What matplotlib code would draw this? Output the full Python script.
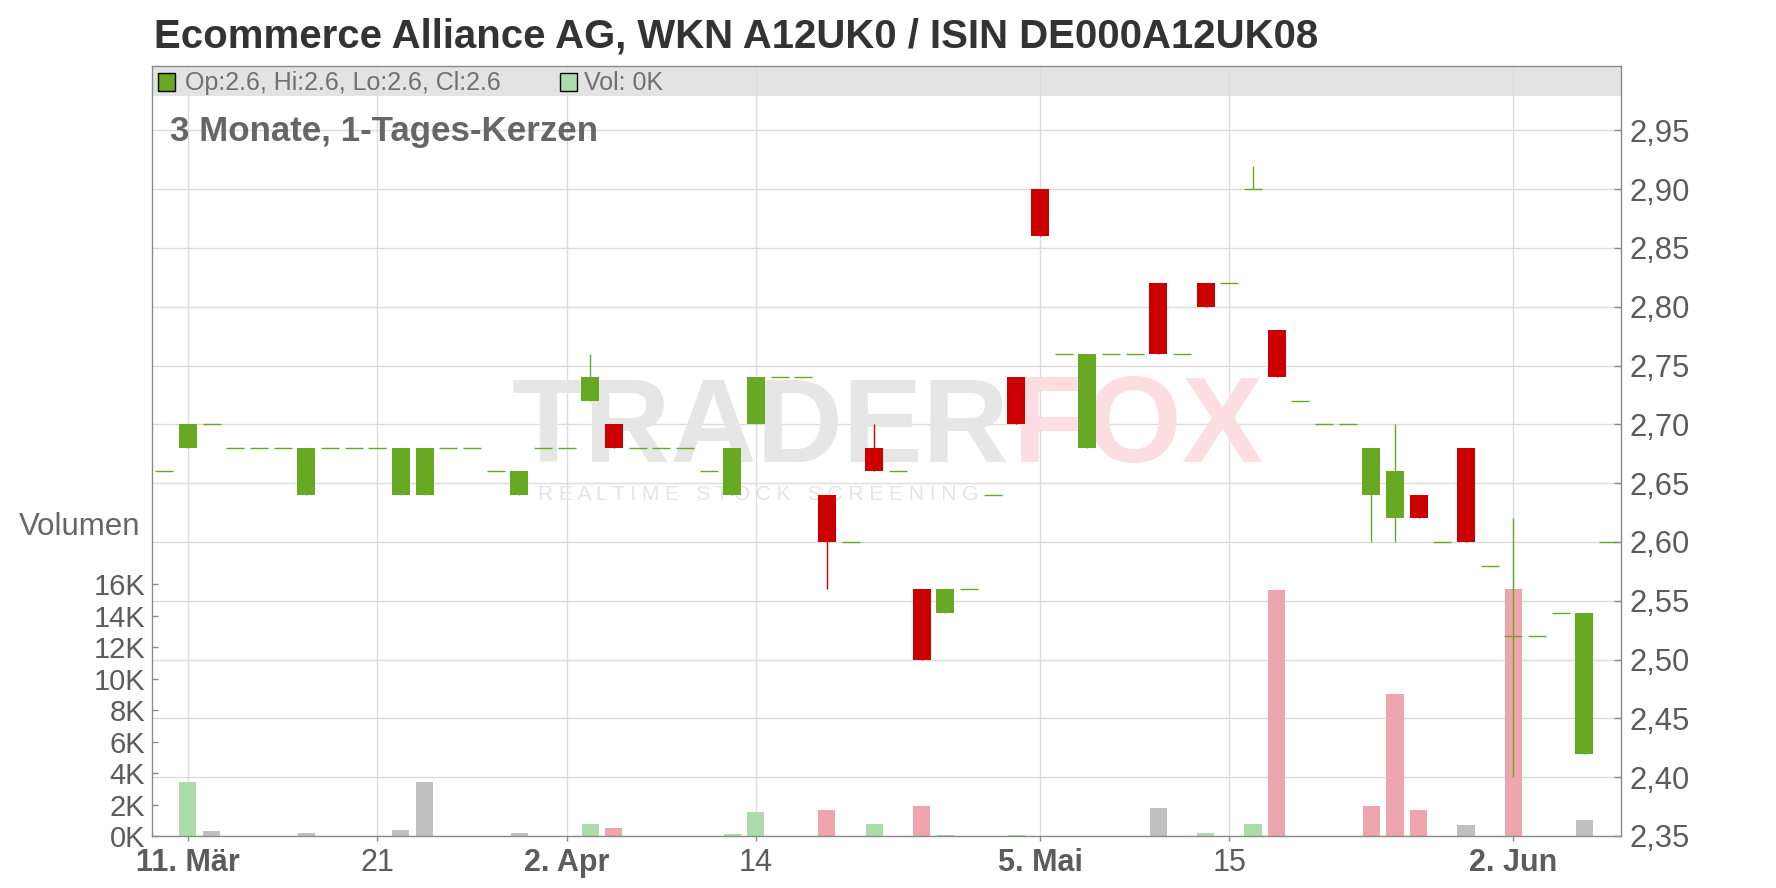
import matplotlib
matplotlib.use('Agg')
import matplotlib.pyplot as plt
from matplotlib.patches import Rectangle

plt.rcParams['font.family'] = ['Liberation Sans', 'DejaVu Sans']

title = "Ecommerce Alliance AG, WKN A12UK0 / ISIN DE000A12UK08"
subtitle = "3 Monate, 1-Tages-Kerzen"
volume_label = "Volumen"

open_ = [2.66, 2.68, 2.70, 2.68, 2.68, 2.68, 2.64, 2.68, 2.68, 2.68,
         2.64, 2.64, 2.68, 2.68, 2.66, 2.64, 2.68, 2.68, 2.72, 2.70,
         2.68, 2.68, 2.68, 2.66, 2.64, 2.70, 2.74, 2.74, 2.64, 2.60,
         2.68, 2.66, 2.56, 2.54, 2.56, 2.64, 2.74, 2.90, 2.76, 2.68,
         2.76, 2.76, 2.82, 2.76, 2.82, 2.82, 2.90, 2.78, 2.72, 2.70,
         2.70, 2.64, 2.62, 2.64, 2.60, 2.68, 2.58, 2.52, 2.52, 2.54,
         2.42, 2.60]
high = [2.66, 2.70, 2.70, 2.68, 2.68, 2.68, 2.68, 2.68, 2.68, 2.68,
        2.68, 2.68, 2.68, 2.68, 2.66, 2.66, 2.68, 2.68, 2.76, 2.70,
        2.68, 2.68, 2.68, 2.66, 2.68, 2.74, 2.74, 2.74, 2.64, 2.60,
        2.70, 2.66, 2.56, 2.56, 2.56, 2.64, 2.74, 2.90, 2.76, 2.76,
        2.76, 2.76, 2.82, 2.76, 2.82, 2.82, 2.92, 2.78, 2.72, 2.70,
        2.70, 2.68, 2.70, 2.64, 2.60, 2.68, 2.58, 2.62, 2.52, 2.54,
        2.54, 2.60]
low = [2.66, 2.68, 2.70, 2.68, 2.68, 2.68, 2.64, 2.68, 2.68, 2.68,
       2.64, 2.64, 2.68, 2.68, 2.66, 2.64, 2.68, 2.68, 2.72, 2.68,
       2.68, 2.68, 2.68, 2.66, 2.64, 2.70, 2.74, 2.74, 2.56, 2.60,
       2.66, 2.66, 2.50, 2.54, 2.56, 2.64, 2.70, 2.86, 2.76, 2.68,
       2.76, 2.76, 2.76, 2.76, 2.80, 2.82, 2.90, 2.74, 2.72, 2.70,
       2.70, 2.60, 2.60, 2.62, 2.60, 2.60, 2.58, 2.40, 2.52, 2.54,
       2.42, 2.60]
close = [2.66, 2.70, 2.70, 2.68, 2.68, 2.68, 2.68, 2.68, 2.68, 2.68,
         2.68, 2.68, 2.68, 2.68, 2.66, 2.66, 2.68, 2.68, 2.74, 2.68,
         2.68, 2.68, 2.68, 2.66, 2.68, 2.74, 2.74, 2.74, 2.60, 2.60,
         2.66, 2.66, 2.50, 2.56, 2.56, 2.64, 2.70, 2.86, 2.76, 2.76,
         2.76, 2.76, 2.76, 2.76, 2.80, 2.82, 2.90, 2.74, 2.72, 2.70,
         2.70, 2.68, 2.66, 2.62, 2.60, 2.60, 2.58, 2.52, 2.52, 2.54,
         2.54, 2.60]
volume = [0, 3450, 320, 0, 0, 0, 190, 0, 0, 0,
          380, 3450, 0, 0, 0, 190, 0, 0, 760, 510,
          0, 0, 0, 0, 130, 1520, 0, 0, 1650, 0,
          760, 0, 1900, 60, 0, 0, 60, 0, 0, 0,
          0, 0, 1780, 0, 200, 0, 760, 15600, 0, 0,
          0, 1900, 9000, 1650, 0, 700, 0, 15700, 0, 0,
          1020, 0]

x_tick_index = [1, 9, 17, 25, 37, 45, 57]
x_tick_labels = ["11. Mär", "21", "2. Apr", "14", "5. Mai", "15", "2. Jun"]
price_ticks = [2.35, 2.40, 2.45, 2.50, 2.55, 2.60, 2.65, 2.70, 2.75, 2.80, 2.85, 2.90, 2.95]
volume_ticks = [0, 2000, 4000, 6000, 8000, 10000, 12000, 14000, 16000]

GREEN = '#67a922'
RED = '#cc0000'
VOL_UP = '#abdcaa'
VOL_DOWN = '#eea5ad'
VOL_FLAT = '#c0c0c0'
GRID = '#dcdcdc'
AXIS = '#8a8a8a'
TXT = '#5c5c5c'

W, H = 1776, 888
fig = plt.figure(figsize=(W / 100, H / 100), dpi=100)

left_px, right_px, top_px, bottom_px = 152, 1621, 66, 836
pos = [left_px / W, 1 - bottom_px / H, (right_px - left_px) / W, (bottom_px - top_px) / H]

n = len(close)
xs = list(range(n))
xlim = (-0.52, n - 0.45)
px_per_price = 1176.0
ylim_price = (2.35, 2.35 + (bottom_px - top_px) / px_per_price)
px_per_vol = 15.75 / 1000.0
ylim_vol = (0, (bottom_px - top_px) / px_per_vol)

# background axis: grid, header band, watermark
ax_bg = fig.add_axes(pos, zorder=0)
ax_bg.set_xlim(*xlim)
ax_bg.set_ylim(*ylim_price)
ax_bg.set_xticks(x_tick_index)
ax_bg.set_yticks(price_ticks)
ax_bg.set_axisbelow(True)
ax_bg.grid(True, color=GRID, lw=1.0)
ax_bg.tick_params(left=False, bottom=False, labelleft=False, labelbottom=False)
for s in ax_bg.spines.values():
    s.set_visible(False)
header_h = 30 / (bottom_px - top_px)
ax_bg.add_patch(Rectangle((0, 1 - header_h), 1, header_h, transform=ax_bg.transAxes,
                          facecolor='#e3e3e3', edgecolor='none', zorder=0.1))
ax_bg.text(0.245, 0.486, "TRADER", transform=ax_bg.transAxes, fontsize=86, fontweight='bold',
           color='#e6e6e6', va='baseline', ha='left', zorder=0.6)
ax_bg.text(0.586, 0.486, "FOX", transform=ax_bg.transAxes, fontsize=88, fontweight='bold',
           color='#fcdde2', va='baseline', ha='left', zorder=0.6)
ax_bg.text(0.263, 0.436, "R E A L T I M E   S T O C K   S C R E E N I N G", transform=ax_bg.transAxes,
           fontsize=15, color='#e4e4e4', va='baseline', ha='left', zorder=0.6)

# volume axis
ax_vol = fig.add_axes(pos, zorder=1, sharex=ax_bg)
ax_vol.patch.set_visible(False)
ax_vol.set_ylim(*ylim_vol)
vol_colors = []
for i in range(n):
    if i == 0 or close[i] == close[i - 1]:
        vol_colors.append(VOL_FLAT)
    elif close[i] > close[i - 1]:
        vol_colors.append(VOL_UP)
    else:
        vol_colors.append(VOL_DOWN)
ax_vol.bar(xs, volume, width=0.72, color=vol_colors, linewidth=0)
ax_vol.set_yticks(volume_ticks)
ax_vol.set_yticklabels([f"{v // 1000}K" for v in volume_ticks])
ax_vol.tick_params(axis='y', direction='in', length=4.5, width=1, color=AXIS,
                   labelsize=21, labelcolor=TXT, pad=5)
ax_vol.tick_params(axis='x', bottom=False, labelbottom=False)
for s in ax_vol.spines.values():
    s.set_visible(False)

# price axis (candles)
ax = fig.add_axes(pos, zorder=2, sharex=ax_bg)
ax.patch.set_visible(False)
ax.set_ylim(*ylim_price)
body_w = 0.76
for i in range(n):
    o, h, l, c = open_[i], high[i], low[i], close[i]
    col = GREEN if c >= o else RED
    if h > l:
        ax.vlines(i, l, h, color=col, lw=1.0, zorder=2)
    if abs(c - o) > 1e-9:
        ax.bar(i, abs(c - o), bottom=min(o, c), width=body_w, color=col, linewidth=0, zorder=3)
    else:
        ax.hlines(c, i - body_w / 2, i + body_w / 2, color=col, lw=1.0, zorder=3)

ax.yaxis.tick_right()
ax.set_yticks(price_ticks)
ax.set_yticklabels([f"{p:.2f}".replace('.', ',') for p in price_ticks])
ax.tick_params(axis='y', direction='in', length=5, width=1, color=AXIS,
               labelsize=22.3, labelcolor=TXT, pad=6)
ax.set_xticks(x_tick_index)
ax.set_xticklabels(x_tick_labels)
ax.tick_params(axis='x', direction='out', length=3.5, width=1, color=AXIS,
               labelsize=22, labelcolor=TXT, pad=5)
for lbl, txt in zip(ax.get_xticklabels(), x_tick_labels):
    if not txt.isdigit():
        lbl.set_fontweight('bold')
for s in ax.spines.values():
    s.set_color(AXIS)
    s.set_linewidth(1.0)
ax.set_xlim(*xlim)

# texts
fig.text(154 / W, 1 - 47 / H, title, fontsize=28.9, fontweight='bold', color='#333333',
         ha='left', va='baseline')
fig.text(170 / W, 1 - 141 / H, subtitle, fontsize=25.1, fontweight='bold', color='#666666',
         ha='left', va='baseline')
fig.text(19 / W, 1 - 535 / H, volume_label, fontsize=22.5, color='#666666',
         ha='left', va='baseline')

# header legend
lo, lh, ll, lc, lv = open_[-1], high[-1], low[-1], close[-1], volume[-1]
fig.patches.append(Rectangle((158 / W, 1 - 91 / H), 17 / W, 18 / H, transform=fig.transFigure,
                             facecolor=GREEN if lc >= lo else RED, edgecolor='black', lw=1.0, zorder=5))
fig.text(185 / W, 1 - 90 / H, f"Op:{lo:g}, Hi:{lh:g}, Lo:{ll:g}, Cl:{lc:g}", fontsize=18,
         color='#707070', ha='left', va='baseline', zorder=5)
fig.patches.append(Rectangle((560 / W, 1 - 91 / H), 17 / W, 18 / H, transform=fig.transFigure,
                             facecolor=VOL_UP, edgecolor='black', lw=1.0, zorder=5))
fig.text(584 / W, 1 - 90 / H, f"Vol: {lv / 1000:.0f}K", fontsize=18,
         color='#707070', ha='left', va='baseline', zorder=5)

fig.savefig('out.png', dpi=100)
